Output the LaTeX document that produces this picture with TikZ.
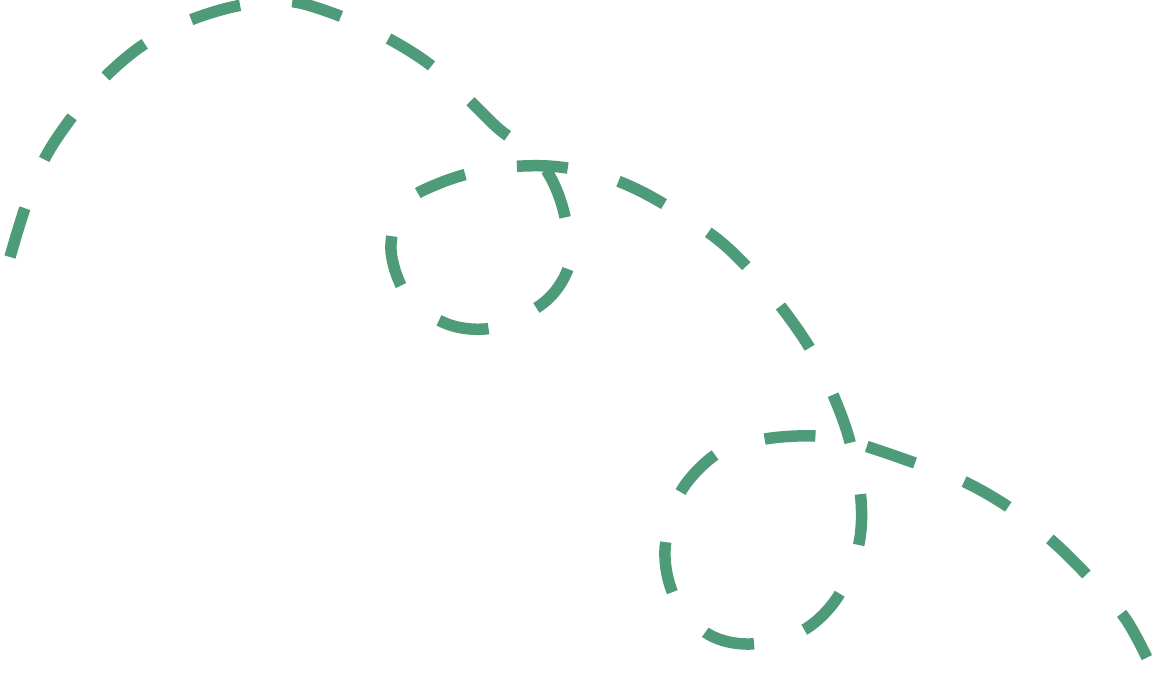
\documentclass[tikz,border=0pt]{standalone}
\definecolor{pathgreen}{RGB}{78,155,122}
\begin{document}
\begin{tikzpicture}[x=1pt,y=-1pt,
  trackline/.style={draw=pathgreen,line width=11.5pt,dash pattern=on 51pt off 52.5pt}]
\useasboundingbox (0,0) rectangle (1162,688);
\draw[trackline] plot[smooth,tension=0.55] coordinates {
 (10,257) (25,208) (45,158) (72,117) (105,77) (143,45) (188,21) (237,6) (287,1)
 (332,13) (380,34) (425,61) (462,93) (500,130) (533,153) (553,182) (565,217) (570,262)
 (547,300) (497,327) (450,325) (408,297) (391,250) (403,205) (440,183) (490,169)
 (548,166) (600,175) (648,195) (712,235) (750,270) (782,308) (811,350) (834,397)
 (850,442) (861,500) (858,548) (837,598) (802,631) (750,644) (708,634) (675,598)
 (665,550) (680,493) (718,453) (765,439) (815,436) (855,443) (915,463) (965,482)
 (1010,508) (1050,539) (1085,573) (1125,618) (1150,664)};
\end{tikzpicture}
\end{document}
